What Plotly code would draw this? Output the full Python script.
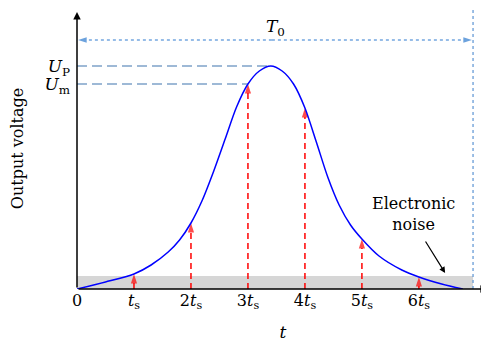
import plotly.graph_objects as go

# time in units of the sampling interval t_s, voltage in arbitrary units
t_curve = [0, 0.5, 1.0, 1.3, 1.6, 1.8, 2.0, 2.2, 2.4, 2.6, 2.8, 3.0, 3.2, 3.4, 3.6,
           3.8, 4.0, 4.2, 4.4, 4.6, 4.8, 5.0, 5.3, 5.7, 6.0, 6.4, 6.77]
v_curve = [0, 7, 15, 24, 37, 49, 66, 89, 118, 150, 182, 205, 218, 223, 218,
           205, 181, 147, 112, 84, 64, 50, 33, 19, 12, 5, 0]

t_samples = [1, 2, 3, 4, 5, 6]
v_samples = [15, 66, 205, 181, 50, 12]

x_tick_vals = [0, 1, 2, 3, 4, 5, 6]
x_tick_text = ["0", "<i>t</i><sub>s</sub>", "2<i>t</i><sub>s</sub>", "3<i>t</i><sub>s</sub>",
               "4<i>t</i><sub>s</sub>", "5<i>t</i><sub>s</sub>", "6<i>t</i><sub>s</sub>"]

U_p = 223
U_m = 205
t_peak = 3.42
T0_end = 6.95
noise_level = 13

SERIF = "DejaVu Serif"
DASH_BLUE = "#3f74ae"
DOT_BLUE = "#2e7bcf"

fig = go.Figure()

# electronic noise band
fig.add_shape(type="rect", x0=0, x1=T0_end, y0=0, y1=noise_level,
              fillcolor="#d6d6d6", line_width=0, layer="below")

# U_P and U_m reference lines
fig.add_trace(go.Scatter(x=[0, t_peak], y=[U_p, U_p], mode="lines",
                         line=dict(color=DASH_BLUE, width=1.2, dash="10px,5px"),
                         hoverinfo="skip"))
fig.add_trace(go.Scatter(x=[0, 3], y=[U_m, U_m], mode="lines",
                         line=dict(color=DASH_BLUE, width=1.2, dash="10px,5px"),
                         hoverinfo="skip"))

# sampling arrows
for ts, vs in zip(t_samples, v_samples):
    fig.add_trace(go.Scatter(
        x=[ts, ts], y=[0, vs], mode="lines+markers",
        line=dict(color="#ff0000", width=1.5, dash="6px,4px"),
        marker=dict(symbol="arrow", angleref="previous", size=[0, 10],
                    color="#ff0000", line_width=0),
        hoverinfo="skip"))

# pulse
fig.add_trace(go.Scatter(x=t_curve, y=v_curve, mode="lines",
                         line=dict(color="#0000ff", width=1.5, shape="spline", smoothing=0.8),
                         hoverinfo="skip"))

# T0 vertical boundary
fig.add_trace(go.Scatter(x=[T0_end, T0_end], y=[0, 281], mode="lines",
                         line=dict(color="#5b93d3", width=1.2, dash="dot"),
                         hoverinfo="skip"))

# T0 double arrow
for end in [0.02, T0_end - 0.02]:
    fig.add_trace(go.Scatter(
        x=[t_peak, end], y=[249, 249], mode="lines+markers",
        line=dict(color=DOT_BLUE, width=1.2, dash="dot"),
        marker=dict(symbol="arrow", angleref="previous", size=[0, 9],
                    color=DOT_BLUE, line_width=0),
        hoverinfo="skip"))

fig.add_annotation(x=3.48, y=262, text="<i>T</i><sub>0</sub>", showarrow=False,
                   font=dict(family=SERIF, size=17, color="black"))

# axes with arrow heads
fig.add_annotation(x=7.21, y=0, ax=0, ay=0, axref="x", ayref="y", text="",
                   showarrow=True, arrowhead=2, arrowsize=1, arrowwidth=1.5,
                   arrowcolor="black")
fig.add_annotation(x=0, y=277, ax=0, ay=0, axref="x", ayref="y", text="",
                   showarrow=True, arrowhead=2, arrowsize=1, arrowwidth=1.5,
                   arrowcolor="black")

# electronic noise label
fig.add_annotation(x=5.9, y=75, text="Electronic<br>noise", showarrow=False,
                   font=dict(family=SERIF, size=16, color="black"))
fig.add_annotation(x=6.46, y=16, ax=6.1, ay=49, axref="x", ayref="y", text="",
                   showarrow=True, arrowhead=2, arrowsize=1, arrowwidth=1.2,
                   arrowcolor="black")

fig.update_layout(
    width=481, height=337,
    margin=dict(l=69, r=0, t=0, b=56),
    plot_bgcolor="white", paper_bgcolor="white",
    showlegend=False,
    font=dict(family=SERIF, size=16, color="black"),
    xaxis=dict(range=[0, 7.23], showgrid=False, zeroline=False, showline=False,
               tickmode="array", tickvals=x_tick_vals, ticktext=x_tick_text,
               ticks="", ticklabelstandoff=0, automargin=False,
               tickfont=dict(family=SERIF, size=16),
               title=dict(text="<i>t</i>", standoff=14, font=dict(family=SERIF, size=17))),
    yaxis=dict(range=[0, 281], showgrid=False, zeroline=False, showline=False,
               tickmode="array", tickvals=[U_p, U_m],
               ticktext=["<i>U</i><sub>P</sub>", "<i>U</i><sub>m</sub>"],
               ticks="", ticklabelstandoff=6, automargin=False,
               tickfont=dict(family=SERIF, size=17),
               title=dict(text="Output voltage", standoff=18, font=dict(family=SERIF, size=16))),
)

fig.write_html("out.html")
